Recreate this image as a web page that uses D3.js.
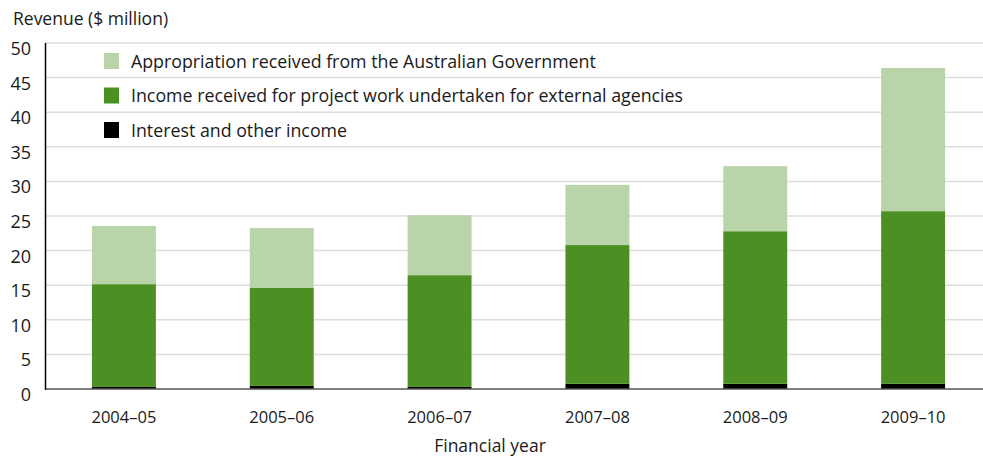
<!DOCTYPE html>
<html>
<head>
<meta charset="utf-8">
<script src="https://cdn.jsdelivr.net/npm/d3@7"></script>
<style>
  body { margin: 0; background: #fff; }
  svg text { font-family: "Open Sans", sans-serif; fill: #1a1a1a; }
</style>
</head>
<body>
<script>
(function(){

// financial years and revenue components ($ million)
var years = ["2004–05", "2005–06", "2006–07", "2007–08", "2008–09", "2009–10"];
var interest = [0.3, 0.45, 0.3, 0.75, 0.75, 0.75];
var projectIncome = [14.85, 14.15, 16.15, 20.05, 22.05, 24.95];
var appropriation = [8.4, 8.65, 8.65, 8.7, 9.4, 20.7];
var seriesNames = [
    "Appropriation received from the Australian Government",
    "Income received for project work undertaken for external agencies",
    "Interest and other income"
];
var yTicks = [0, 5, 10, 15, 20, 25, 30, 35, 40, 45, 50];

var colors = {
    interest: "#000000",
    project: "#4c8f23",
    appropriation: "#b8d4a8"
};

var width = 983,
    height = 458;

var svg = d3.select("body")
    .append("svg")
    .attr("width", width)
    .attr("height", height);

var x = d3.scaleBand()
    .domain(years)
    .range([45, 992])
    .paddingInner(0.595)
    .paddingOuter(0.2975);

var y = d3.scaleLinear()
    .domain([0, 50])
    .range([389, 43]);

//build stacked table from the arrays
var table = years.map(function(yr, i){
    return {year: yr, interest: interest[i], project: projectIncome[i], appropriation: appropriation[i]};
});
var stack = d3.stack().keys(["interest", "project", "appropriation"]);
var layers = stack(table);

//gridlines
svg.append("g")
    .selectAll("line")
    .data(yTicks.slice(1))
    .enter()
    .append("line")
    .attr("x1", 45)
    .attr("x2", width)
    .attr("y1", function(d){ return y(d); })
    .attr("y2", function(d){ return y(d); })
    .attr("stroke", "#dddddd")
    .attr("stroke-width", 1.5);

//bars
svg.append("g")
    .selectAll("g")
    .data(layers)
    .enter()
    .append("g")
    .attr("fill", function(d){ return colors[d.key]; })
    .selectAll("rect")
    .data(function(d){ return d; })
    .enter()
    .append("rect")
    .attr("x", function(d){ return x(d.data.year); })
    .attr("width", x.bandwidth())
    .attr("y", function(d){ return y(d[1]); })
    .attr("height", function(d){ return y(d[0]) - y(d[1]); });

//axis lines
svg.append("line")
    .attr("x1", 45).attr("x2", width)
    .attr("y1", y(0)).attr("y2", y(0))
    .attr("stroke", "#555").attr("stroke-width", 1.5);
svg.append("line")
    .attr("x1", 45.5).attr("x2", 45.5)
    .attr("y1", y(50)).attr("y2", y(0) + 0.75)
    .attr("stroke", "#000").attr("stroke-width", 1.5);

//y tick labels
svg.append("g")
    .selectAll("text")
    .data(yTicks)
    .enter()
    .append("text")
    .attr("x", 31)
    .attr("y", function(d){ return y(d) + 12; })
    .attr("text-anchor", "end")
    .style("font-size", "18px")
    .text(function(d){ return d; });

//x tick labels
svg.append("g")
    .selectAll("text")
    .data(years)
    .enter()
    .append("text")
    .attr("x", function(d){ return x(d) + x.bandwidth() / 2; })
    .attr("y", 423)
    .attr("text-anchor", "middle")
    .style("font-size", "16.5px")
    .text(function(d){ return d; });

//axis titles
svg.append("text")
    .attr("x", 13)
    .attr("y", 25)
    .style("font-size", "17.5px")
    .text("Revenue ($ million)");
svg.append("text")
    .attr("x", 490)
    .attr("y", 452)
    .attr("text-anchor", "middle")
    .style("font-size", "17.5px")
    .text("Financial year");

//legend
var legendColors = [colors.appropriation, colors.project, colors.interest];
var legend = svg.append("g")
    .selectAll("g")
    .data(seriesNames)
    .enter()
    .append("g")
    .attr("transform", function(d, i){ return "translate(104," + (61 + i * 34.5) + ")"; });
legend.append("rect")
    .attr("x", 0)
    .attr("y", -8)
    .attr("width", 15)
    .attr("height", 16)
    .attr("fill", function(d, i){ return legendColors[i]; });
legend.append("text")
    .attr("x", 27)
    .attr("y", 6.5)
    .style("font-size", "17.8px")
    .text(function(d){ return d; });

})();
</script>
</body>
</html>
